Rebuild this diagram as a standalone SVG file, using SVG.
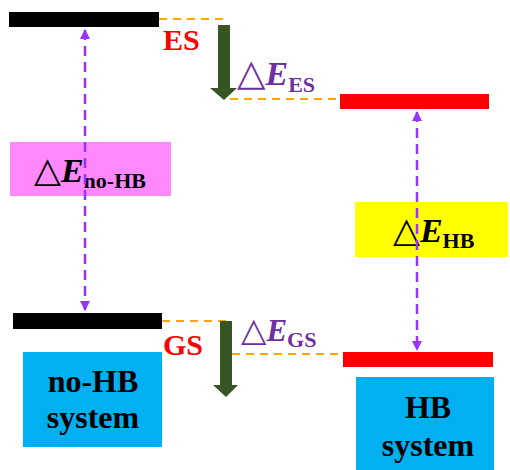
<svg xmlns="http://www.w3.org/2000/svg" width="510" height="470" viewBox="0 0 510 470">
<defs>
<style>
.t{font-family:"Liberation Serif","Times New Roman",serif;font-weight:bold}
.tri{font-family:"DejaVu Sans",sans-serif;font-weight:normal;font-style:normal}
.lvl-k{fill:#000}
.lvl-r{fill:#FF0000}
.od{stroke:#FFA500;stroke-width:2.2;stroke-dasharray:8,6;fill:none}
.pd{stroke:#9933FF;stroke-width:2.5;stroke-dasharray:10,6;fill:none}
.ga{fill:#375623}
.sys{fill:#00B0F0}
.lab{fill:#FF0000;font-size:30px}
.de{fill:#7030A0;font-size:34px}
.dk{fill:#000;font-size:34px}
.sub{font-size:22px}
.sy{font-size:32px;fill:#000;text-anchor:middle}
</style>
<marker id="pa" viewBox="0 0 10 10" refX="9" refY="5" markerWidth="4" markerHeight="4" orient="auto-start-reverse" markerUnits="strokeWidth">
<path d="M0,0 L10,5 L0,10 Z" fill="#9933FF"/>
</marker>
</defs>
<rect width="510" height="470" fill="#fff"/>
<g id="es-nohb"><rect class="lvl-k" x="9" y="12" width="150" height="15"/></g>
<g id="gs-nohb"><rect class="lvl-k" x="13" y="313" width="149" height="16"/></g>
<g id="es-hb"><rect class="lvl-r" x="340" y="94" width="149" height="15"/></g>
<g id="gs-hb"><rect class="lvl-r" x="343" y="352" width="150" height="15"/></g>
<g id="label-es"><text class="t lab" x="163" y="50">ES</text></g>
<g id="label-gs"><text class="t lab" x="163" y="355">GS</text></g>
<g id="de-es"><text class="t de" x="237" y="85"><tspan class="tri" font-size="37">△</tspan><tspan font-style="italic">E</tspan><tspan class="sub" dy="7">ES</tspan></text></g>
<g id="de-gs"><text class="t de" x="241" y="341" font-size="30"><tspan class="tri" font-size="33">△</tspan><tspan font-style="italic" font-size="31">E</tspan><tspan class="sub" dy="6" font-size="20">GS</tspan></text></g>
<g id="de-nohb">
<rect x="10" y="142" width="161" height="54" fill="#FF88FF"/>
<text class="t dk" x="34" y="182"><tspan class="tri" font-size="35">△</tspan><tspan font-style="italic">E</tspan><tspan class="sub" dy="6">no-HB</tspan></text>
</g>
<g id="de-hb">
<rect x="355" y="202" width="153" height="55" fill="#FFFF00"/>
<text class="t dk" x="393" y="242"><tspan class="tri" font-size="35">△</tspan><tspan font-style="italic">E</tspan><tspan class="sub" dy="6">HB</tspan></text>
</g>
<g id="sys-nohb">
<rect class="sys" x="23" y="352" width="139" height="95"/>
<text class="t sy" x="93" y="392">no-HB</text>
<text class="t sy" x="93" y="428">system</text>
</g>
<g id="sys-hb">
<rect class="sys" x="356" y="377" width="138" height="93"/>
<text class="t sy" x="428" y="418">HB</text>
<text class="t sy" x="428" y="456">system</text>
</g>
<g id="connectors">
<line class="od" x1="159" y1="19" x2="224" y2="19"/>
<line class="od" x1="230" y1="99" x2="340" y2="99"/>
<line class="od" x1="162" y1="321" x2="226" y2="321"/>
<line class="od" x1="232" y1="354" x2="343" y2="354"/>
<line class="pd" x1="85" y1="30" x2="85" y2="310" marker-start="url(#pa)" marker-end="url(#pa)"/>
<line class="pd" x1="417" y1="112" x2="417" y2="350" marker-start="url(#pa)" marker-end="url(#pa)"/>
<path class="ga" d="M218,25 H230 V88 H237 L224,100 L210,88 H218 Z"/>
<path class="ga" d="M220,321 H232 V385 H238 L226,397 L213,385 H220 Z"/>
</g>
</svg>
